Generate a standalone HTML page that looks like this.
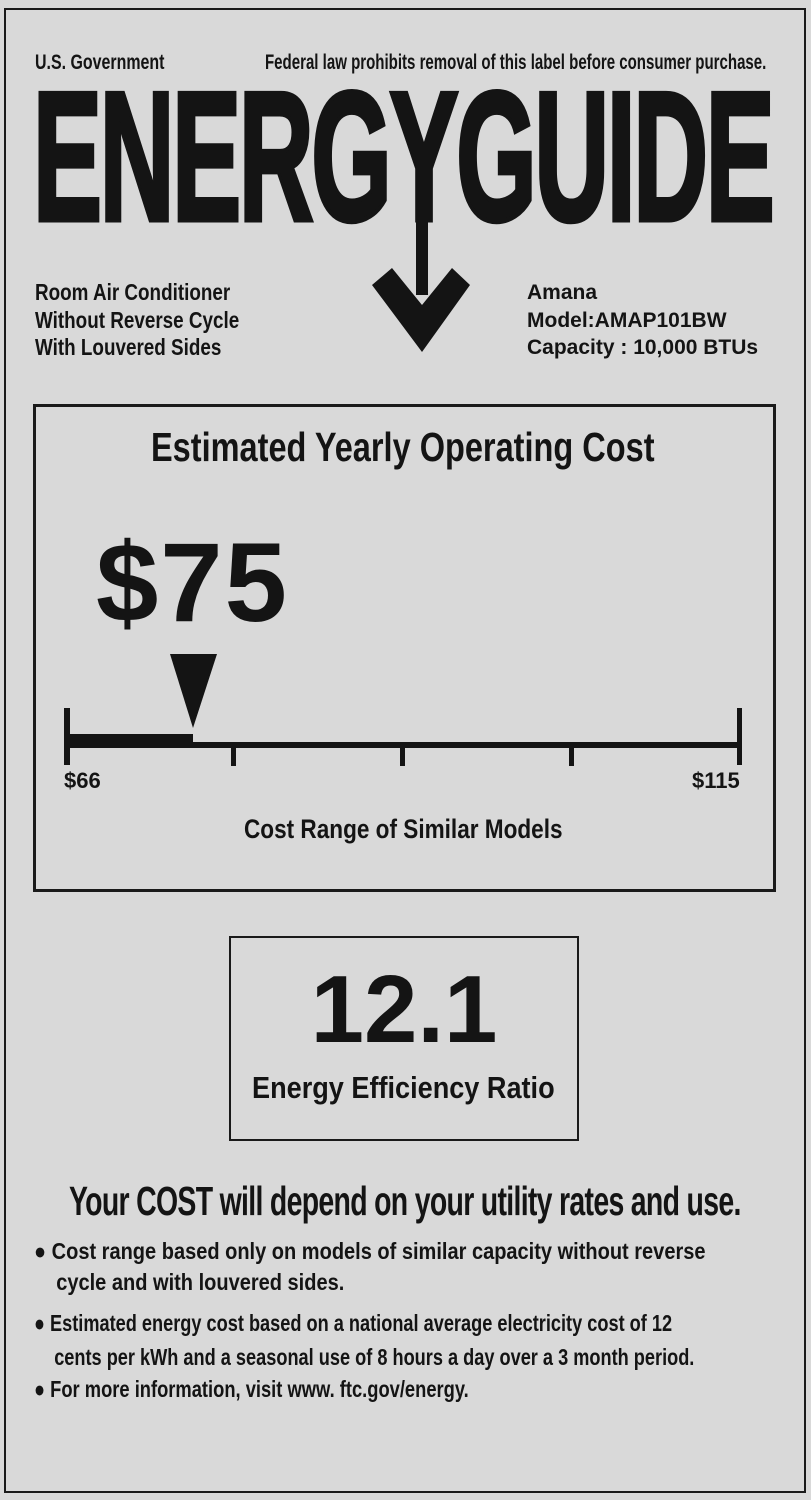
<!DOCTYPE html>
<html><head><meta charset="utf-8"><style>
body{margin:0;width:811px;height:1500px;background:#d9d9d9;position:relative;overflow:hidden;font-family:"Liberation Sans",sans-serif;color:#141414}
.a{position:absolute;white-space:nowrap}
.c{transform-origin:0 0}
</style></head><body>
<div class="a" style="left:4px;top:8px;width:798px;height:1481px;border:2px solid #1a1a1a"></div>
<div class="a c" style="left:35px;top:51px;font-size:21px;font-weight:bold;transform:scaleX(0.76)">U.S. Government</div>
<div class="a c" style="left:265px;top:51px;font-size:21px;font-weight:bold;transform:scaleX(0.716)">Federal law prohibits removal of this label before consumer purchase.</div>
<div class="a c" style="left:33px;top:64px;font-size:184px;font-weight:bold;line-height:1;letter-spacing:-4px;-webkit-text-stroke:5px #141414;transform:scaleX(0.562)">ENERGYGUIDE</div>
<svg class="a" style="left:0;top:0" width="811" height="400"><rect x="416" y="215" width="12" height="80" fill="#141414"/><polygon points="372,285 392,268 422,305 452,268 470,285 422,352" fill="#141414"/></svg>
<div class="a c" style="left:35px;top:279px;font-size:23px;font-weight:bold;line-height:27.5px;transform:scaleX(0.82)">Room Air Conditioner<br>Without Reverse Cycle<br>With Louvered Sides</div>
<div class="a" style="left:527px;top:279px;font-size:21px;font-weight:bold;line-height:27.5px">Amana<br>Model:AMAP101BW<br>Capacity : 10,000 BTUs</div>
<div class="a" style="left:33px;top:404px;width:737px;height:482px;border:3px solid #1a1a1a"></div>
<div class="a c" style="left:151px;top:424px;font-size:41px;font-weight:bold;transform:scaleX(0.793)">Estimated Yearly Operating Cost</div>
<div class="a" style="left:96px;top:527px;font-size:112px;font-weight:bold;line-height:1;letter-spacing:2px">$75</div>
<svg class="a" style="left:0;top:640px" width="811" height="130"><polygon points="170,14 217,14 193,88" fill="#141414"/><rect x="64" y="68" width="6" height="57" fill="#141414"/><rect x="64" y="94" width="129" height="14" fill="#141414"/><rect x="64" y="102" width="676" height="6" fill="#141414"/><rect x="231" y="104" width="5" height="22" fill="#141414"/><rect x="400" y="104" width="5" height="22" fill="#141414"/><rect x="569" y="104" width="5" height="22" fill="#141414"/><rect x="737" y="68" width="5" height="57" fill="#141414"/></svg>
<div class="a" style="left:64px;top:768px;font-size:22px;font-weight:bold">$66</div>
<div class="a" style="left:692px;top:768px;font-size:22px;font-weight:bold">$115</div>
<div class="a c" style="left:244px;top:814px;font-size:27px;font-weight:bold;transform:scaleX(0.836)">Cost Range of Similar Models</div>
<div class="a" style="left:229px;top:936px;width:346px;height:201px;border:2px solid #1a1a1a"></div>
<div class="a" style="left:229px;top:962px;width:350px;text-align:center;font-size:96px;font-weight:bold;line-height:1">12.1</div>
<div class="a c" style="left:252px;top:1070px;font-size:31px;font-weight:bold;transform:scaleX(0.874)">Energy Efficiency Ratio</div>
<div class="a c" style="left:69px;top:1178px;font-size:41px;font-weight:bold;letter-spacing:-1px;transform:scaleX(0.694)">Your COST will depend on your utility rates and use.</div>
<div class="a c" style="left:34px;top:1236px;font-size:23px;font-weight:bold;line-height:31px;transform:scaleX(0.87)">● Cost range based only on models of similar capacity without reverse<br>&nbsp;&nbsp;&nbsp;&nbsp;cycle and with louvered sides.</div>
<div class="a c" style="left:34px;top:1306px;font-size:23px;font-weight:bold;line-height:34px;transform:scaleX(0.79)">● Estimated energy cost based on a national average electricity cost of 12<br>&nbsp;&nbsp;&nbsp;&nbsp;cents per kWh and a seasonal use of 8 hours a day over a 3 month period.</div>
<div class="a c" style="left:34px;top:1376px;font-size:23px;font-weight:bold;transform:scaleX(0.797)">● For more information, visit www. ftc.gov/energy.</div>
</body></html>
